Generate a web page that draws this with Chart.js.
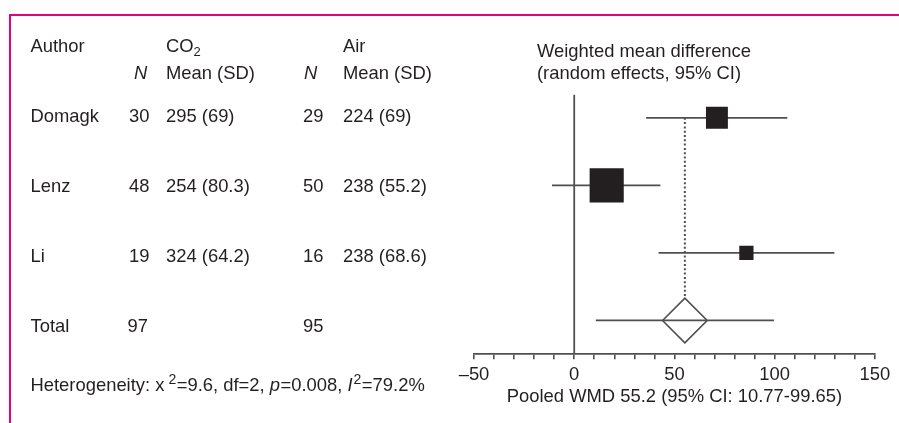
<!DOCTYPE html>
<html><head><meta charset="utf-8">
<script src="https://cdn.jsdelivr.net/npm/chart.js@4.4.0/dist/chart.umd.min.js"></script>
<style>
html,body{margin:0;padding:0;background:#fff;overflow:hidden}
#wrap{position:relative;width:899px;height:423px;background:#fff}
#frame{position:absolute;left:9px;top:14px;right:0;bottom:0;border-top:2px solid #e6007e;border-left:2px solid #e6007e;pointer-events:none}
canvas{position:absolute;left:0;top:0}
</style></head><body>
<div id="wrap"><canvas id="c" width="899" height="423"></canvas><div id="frame"></div></div>
<script>
// ---- data ----
const studies   = ['Domagk', 'Lenz', 'Li'];
const co2N      = [30, 48, 19];
const co2Mean   = [295, 254, 324];
const co2SD     = ['69', '80.3', '64.2'];
const airN      = [29, 50, 16];
const airMean   = [224, 238, 238];
const airSD     = ['69', '55.2', '68.6'];
const totalN    = [97, 95];
const wmd       = [71.2, 16.2, 85.9];
const ciLow     = [35.9, -11.1, 42.1];
const ciHigh    = [106.3, 43.0, 129.8];
const weights   = [26, 63, 11];
const pooledWMD = 55.2;
const pooledLow = 10.77;
const pooledHigh = 99.65;
const xTicks    = [-50, 0, 50, 100, 150];
const chi2 = 9.6, dfVal = 2, pVal = 0.008, i2Val = 79.2;

// ---- styling ----
const FONT = "'Liberation Sans', Arial, Helvetica, sans-serif";
const FS = 18.4;
const INK = '#231f20';
const LINE = '#4f4f51';
Chart.defaults.font.family = FONT;
Chart.defaults.font.size = FS;
Chart.defaults.color = INK;

const rowOf = i => i + 1;
const pooledRow = studies.length + 1;
const sideOf = w => 4.3 * Math.sqrt(w);

const datasets = [];
datasets.push({ data: [{x: pooledLow, y: pooledRow}, {x: pooledHigh, y: pooledRow}],
  showLine: true, borderColor: LINE, borderWidth: 1.8, pointRadius: 0, order: 0 });
datasets.push({ data: [{x: pooledWMD, y: pooledRow}], pointStyle: 'rectRot', pointRadius: 22.3,
  pointHoverRadius: 22.3, backgroundColor: '#fff', borderColor: LINE, borderWidth: 1.6, order: 1 });
datasets.push({ data: [{x: pooledWMD, y: rowOf(0)}, {x: pooledWMD, y: pooledRow}],
  showLine: true, borderColor: LINE, borderWidth: 2, borderDash: [2, 2.3], pointRadius: 0, order: 2 });
datasets.push({ data: wmd.map((v, i) => ({x: v, y: rowOf(i)})), pointStyle: 'rect',
  pointRadius: c => sideOf(weights[c.dataIndex]) / Math.SQRT2,
  pointHoverRadius: c => sideOf(weights[c.dataIndex]) / Math.SQRT2,
  backgroundColor: INK, borderWidth: 0, order: 3 });
studies.forEach((s, i) => datasets.push({
  data: [{x: ciLow[i], y: rowOf(i)}, {x: ciHigh[i], y: rowOf(i)}],
  showLine: true, borderColor: LINE, borderWidth: 1.8, pointRadius: 0, order: 4 }));
datasets.push({ data: [{x: 0, y: 0.66}, {x: 0, y: 4.5}],
  showLine: true, borderColor: LINE, borderWidth: 1.8, pointRadius: 0, order: 5 });

function runs(ctx, x, y, parts) {
  for (const p of parts) {
    ctx.font = p.f;
    ctx.fillText(p.t, x, y + (p.dy || 0));
    x += ctx.measureText(p.t).width + (p.gap || 0);
  }
}

const tablePlugin = {
  id: 'table',
  afterDraw(chart) {
    const ctx = chart.ctx;
    ctx.save();
    ctx.fillStyle = INK;
    ctx.textBaseline = 'alphabetic';
    ctx.textAlign = 'left';
    const R = `${FS}px ${FONT}`, It = `italic ${FS}px ${FONT}`, Sm = `13px ${FONT}`, Sup = `14px ${FONT}`;
    const cA = 30.5, cN1 = 129, cM1 = 166, cN2 = 303, cM2 = 343;
    // headers
    runs(ctx, cA, 52, [{f: R, t: 'Author'}]);
    runs(ctx, cM1, 52, [{f: R, t: 'CO'}, {f: Sm, t: '2', dy: 4}]);
    runs(ctx, cM2, 52, [{f: R, t: 'Air'}]);
    runs(ctx, cN1 + 5, 79, [{f: It, t: 'N'}]);
    runs(ctx, cM1, 79, [{f: R, t: 'Mean (SD)'}]);
    runs(ctx, cN2 + 1, 79, [{f: It, t: 'N'}]);
    runs(ctx, cM2, 79, [{f: R, t: 'Mean (SD)'}]);
    // study rows
    studies.forEach((s, i) => {
      const y = 122 + 70 * i;
      ctx.font = R;
      ctx.fillText(s, cA, y);
      ctx.fillText(String(co2N[i]), cN1, y);
      ctx.fillText(`${co2Mean[i]} (${co2SD[i]})`, cM1, y);
      ctx.fillText(String(airN[i]), cN2, y);
      ctx.fillText(`${airMean[i]} (${airSD[i]})`, cM2, y);
    });
    ctx.font = R;
    ctx.fillText('Total', cA, 332);
    ctx.fillText(String(totalN[0]), cN1 - 1.5, 332);
    ctx.fillText(String(totalN[1]), cN2, 332);
    runs(ctx, cA, 391, [
      {f: R, t: 'Heterogeneity: x', gap: 4}, {f: Sup, t: '2', dy: -7.5, gap: 0.5},
      {f: R, t: `=${chi2}, df=${dfVal}, `}, {f: It, t: 'p', gap: 0.5},
      {f: R, t: `=${pVal}, `}, {f: It, t: 'I', gap: 1}, {f: Sup, t: '2', dy: -7.5, gap: 0.5},
      {f: R, t: `=${i2Val}%`}
    ]);
    // plot heading
    ctx.font = R;
    ctx.fillText('Weighted mean difference', 537, 57);
    ctx.fillText('(random effects, 95% CI)', 537, 79);
    ctx.restore();
  }
};

new Chart(document.getElementById('c'), {
  type: 'scatter',
  data: { datasets },
  plugins: [tablePlugin],
  options: {
    responsive: false,
    animation: false,
    events: [],
    layout: { padding: { left: 474, right: 22, top: 84, bottom: 14.7 } },
    plugins: { legend: { display: false }, tooltip: { enabled: false } },
    scales: {
      x: {
        type: 'linear', min: xTicks[0], max: xTicks[xTicks.length - 1],
        grid: { drawOnChartArea: false, drawTicks: true, tickLength: 5, color: LINE, lineWidth: 1.6 },
        border: { display: true, color: LINE, width: 1.8 },
        ticks: {
          stepSize: 10, autoSkip: false, maxRotation: 0, padding: 4.3, color: INK,
          font: { size: FS },
          callback: v => xTicks.includes(v) ? (v < 0 ? '\u2013' + Math.abs(v) : String(v)) : ''
        },
        title: { display: true, color: INK, font: { size: FS }, padding: { top: -3.7, bottom: 0 },
          text: `Pooled WMD ${pooledWMD} (95% CI: ${pooledLow}-${pooledHigh})` }
      },
      y: { type: 'linear', reverse: true, min: 0.5, max: 4.5, display: false }
    }
  }
});
</script>
</body></html>
